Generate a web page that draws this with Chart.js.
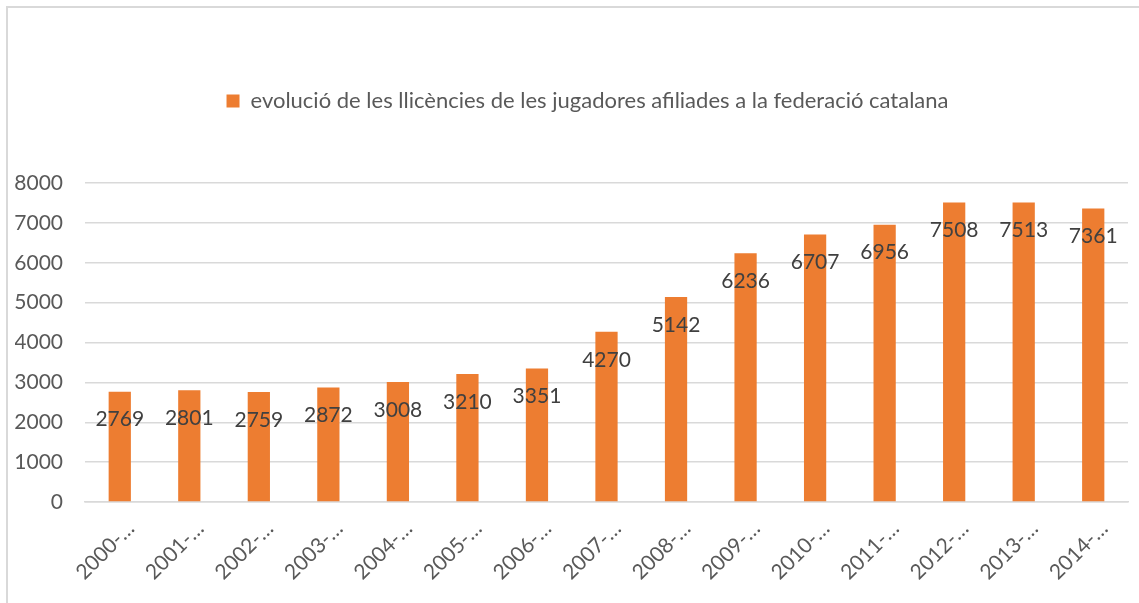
<!doctype html>
<html lang="ca">
<head>
<meta charset="utf-8">
<title>evolució de les llicències</title>
<script src="https://cdn.jsdelivr.net/npm/chart.js@4.4.1/dist/chart.umd.min.js"></script>
<style>
  html, body { margin: 0; padding: 0; background: #fff; }
  #wrap { position: relative; width: 1139px; height: 603px; }
</style>
</head>
<body>
<div id="wrap"><canvas id="licChart" width="1139" height="603"></canvas></div>
<script>
// temporades (etiquetes retallades com a l'original)
const seasons = ["2000-…", "2001-…", "2002-…", "2003-…", "2004-…", "2005-…", "2006-…", "2007-…",
                 "2008-…", "2009-…", "2010-…", "2011-…", "2012-…", "2013-…", "2014-…"];
const licences = [2769, 2801, 2759, 2872, 3008, 3210, 3351, 4270, 5142, 6236, 6707, 6956, 7508, 7513, 7361];
const seriesName = "evolució de les llicències de les jugadores afiliades a la federació catalana";
const yTicks = [0, 1000, 2000, 3000, 4000, 5000, 6000, 7000, 8000];

Chart.defaults.font.family = "Lato, 'Open Sans', sans-serif";

// marc gris de l'objecte (només es veuen dalt i a l'esquerra)
const frame = {
  id: "frame",
  afterLayout(chart) {
    // la llegenda original queda una mica cap a la dreta
    chart.legend.left += 16;
    chart.legend.right += 16;
  },
  beforeDraw(chart) {
    const c = chart.ctx;
    c.save();
    c.fillStyle = "#d9d9d9";
    c.fillRect(6, 6, 2, chart.height);
    c.fillRect(6, 6, chart.width, 2);
    c.restore();
  }
};

// més espai sota la llegenda
const legendGap = {
  id: "legendGap",
  beforeInit(chart) {
    const fit = chart.legend.fit;
    chart.legend.fit = function () {
      fit.bind(chart.legend)();
      this.height += 61;
    };
  }
};

// valors dins la barra, a prop del capdamunt
const barValues = {
  id: "barValues",
  afterDatasetsDraw(chart) {
    const c = chart.ctx;
    const meta = chart.getDatasetMeta(0);
    c.save();
    c.font = "21px Lato";
    c.fillStyle = "#404040";
    c.textAlign = "center";
    c.textBaseline = "middle";
    meta.data.forEach(function (bar, i) {
      c.fillText(licences[i], bar.x, bar.y + 28);
    });
    c.restore();
  }
};

new Chart("licChart", {
  type: "bar",
  data: {
    labels: seasons,
    datasets: [{
      label: seriesName,
      data: licences,
      backgroundColor: "#ed7d31",
      borderWidth: 0,
      barPercentage: 0.32,
      categoryPercentage: 1
    }]
  },
  options: {
    responsive: false,
    animation: false,
    layout: { padding: { top: 80, left: 15, right: 11, bottom: 4 } },
    plugins: {
      legend: {
        position: "top",
        align: "center",
        labels: {
          boxWidth: 13,
          boxHeight: 13,
          padding: 10,
          color: "#595959",
          font: { size: 22 }
        }
      },
      tooltip: { enabled: false }
    },
    scales: {
      x: {
        grid: { display: false, drawTicks: false },
        border: { color: "#d9d9d9", width: 1.5 },
        ticks: {
          color: "#595959",
          font: { size: 21 },
          minRotation: 45,
          maxRotation: 45,
          labelOffset: 11,
          padding: 14,
          autoSkip: false
        },
        afterFit(scale) {
          // les etiquetes inclinades no han d'empènyer l'àrea del gràfic
          scale.paddingLeft = 0;
          scale.paddingRight = 0;
        }
      },
      y: {
        min: 0,
        max: 8000,
        afterBuildTicks(axis) { axis.ticks = yTicks.map(v => ({ value: v })); },
        afterFit(scale) { scale.width = 70; },
        grid: { color: "#d9d9d9", lineWidth: 1.5, drawTicks: false },
        border: { display: false },
        ticks: {
          color: "#595959",
          font: { size: 21 },
          padding: 22,
          callback: v => String(v)
        }
      }
    }
  },
  plugins: [frame, legendGap, barValues]
});
</script>
</body>
</html>
